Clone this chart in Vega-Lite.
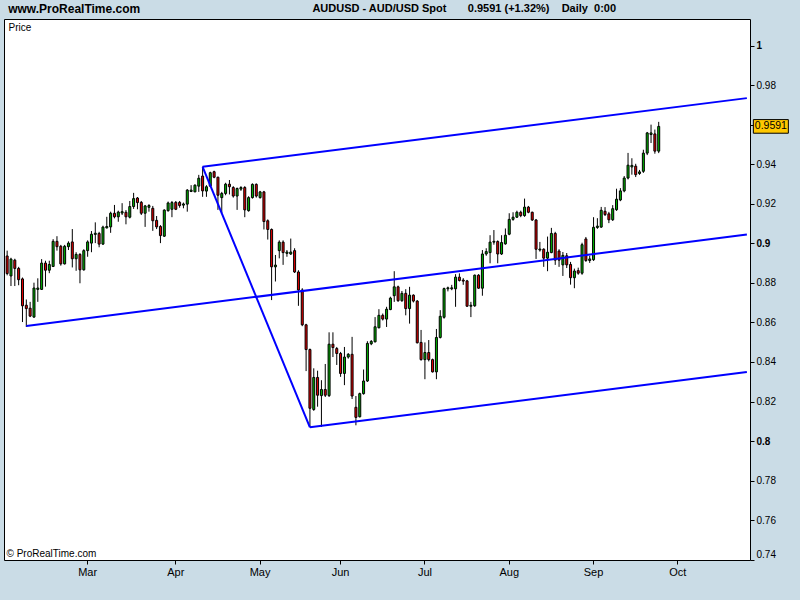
{
"$schema": "https://vega.github.io/schema/vega-lite/v6.json",
"width": 746, "height": 541,
"autosize": {"type": "none"},
"padding": {"left": 4, "top": 19, "right": 50, "bottom": 40},
"background": "#CADCE6",
"config": {"view": {"fill": "white", "stroke": "black", "strokeWidth": 1}, "font": "Liberation Sans"},
"datasets": {
"candles": [
{"d":"2010-01-29","o":0.8936,"h":0.8963,"l":0.8838,"c":0.8847},
{"d":"2010-02-01","o":0.8835,"h":0.8927,"l":0.8784,"c":0.8920},
{"d":"2010-02-02","o":0.8915,"h":0.8922,"l":0.8784,"c":0.8873},
{"d":"2010-02-03","o":0.8873,"h":0.8881,"l":0.8788,"c":0.8816},
{"d":"2010-02-04","o":0.8820,"h":0.8827,"l":0.8602,"c":0.8684},
{"d":"2010-02-05","o":0.8687,"h":0.8716,"l":0.8577,"c":0.8670},
{"d":"2010-02-08","o":0.8672,"h":0.8704,"l":0.8627,"c":0.8632},
{"d":"2010-02-09","o":0.8627,"h":0.8801,"l":0.8624,"c":0.8774},
{"d":"2010-02-10","o":0.8767,"h":0.8823,"l":0.8704,"c":0.8774},
{"d":"2010-02-11","o":0.8767,"h":0.8920,"l":0.8764,"c":0.8900},
{"d":"2010-02-12","o":0.8900,"h":0.8912,"l":0.8781,"c":0.8864},
{"d":"2010-02-15","o":0.8864,"h":0.8912,"l":0.8849,"c":0.8893},
{"d":"2010-02-16","o":0.8883,"h":0.9021,"l":0.8880,"c":0.9010},
{"d":"2010-02-17","o":0.9010,"h":0.9036,"l":0.8963,"c":0.8983},
{"d":"2010-02-18","o":0.8985,"h":0.8992,"l":0.8887,"c":0.8896},
{"d":"2010-02-19","o":0.8896,"h":0.8992,"l":0.8893,"c":0.8985},
{"d":"2010-02-22","o":0.8983,"h":0.9010,"l":0.8966,"c":0.9001},
{"d":"2010-02-23","o":0.9007,"h":0.9072,"l":0.8878,"c":0.8922},
{"d":"2010-02-24","o":0.8922,"h":0.8955,"l":0.8861,"c":0.8944},
{"d":"2010-02-25","o":0.8944,"h":0.8950,"l":0.8798,"c":0.8866},
{"d":"2010-02-26","o":0.8866,"h":0.8970,"l":0.8862,"c":0.8963},
{"d":"2010-03-01","o":0.8963,"h":0.9015,"l":0.8932,"c":0.9007},
{"d":"2010-03-02","o":0.9001,"h":0.9062,"l":0.8955,"c":0.9046},
{"d":"2010-03-03","o":0.9045,"h":0.9106,"l":0.9001,"c":0.9051},
{"d":"2010-03-04","o":0.9050,"h":0.9058,"l":0.8980,"c":0.8996},
{"d":"2010-03-05","o":0.8996,"h":0.9089,"l":0.8992,"c":0.9082},
{"d":"2010-03-08","o":0.9078,"h":0.9134,"l":0.9075,"c":0.9085},
{"d":"2010-03-09","o":0.9083,"h":0.9160,"l":0.9053,"c":0.9152},
{"d":"2010-03-10","o":0.9152,"h":0.9194,"l":0.9126,"c":0.9134},
{"d":"2010-03-11","o":0.9134,"h":0.9165,"l":0.9109,"c":0.9158},
{"d":"2010-03-12","o":0.9153,"h":0.9203,"l":0.9143,"c":0.9160},
{"d":"2010-03-15","o":0.9157,"h":0.9168,"l":0.9096,"c":0.9134},
{"d":"2010-03-16","o":0.9132,"h":0.9214,"l":0.9126,"c":0.9186},
{"d":"2010-03-17","o":0.9186,"h":0.9255,"l":0.9174,"c":0.9226},
{"d":"2010-03-18","o":0.9229,"h":0.9234,"l":0.9172,"c":0.9206},
{"d":"2010-03-19","o":0.9207,"h":0.9214,"l":0.9143,"c":0.9152},
{"d":"2010-03-22","o":0.9152,"h":0.9194,"l":0.9083,"c":0.9189},
{"d":"2010-03-23","o":0.9182,"h":0.9198,"l":0.9160,"c":0.9191},
{"d":"2010-03-24","o":0.9177,"h":0.9189,"l":0.9063,"c":0.9114},
{"d":"2010-03-25","o":0.9116,"h":0.9138,"l":0.9072,"c":0.9083},
{"d":"2010-03-26","o":0.9085,"h":0.9092,"l":0.9001,"c":0.9039},
{"d":"2010-03-29","o":0.9036,"h":0.9172,"l":0.9032,"c":0.9168},
{"d":"2010-03-30","o":0.9165,"h":0.9211,"l":0.9160,"c":0.9204},
{"d":"2010-03-31","o":0.9172,"h":0.9214,"l":0.9132,"c":0.9206},
{"d":"2010-04-01","o":0.9207,"h":0.9214,"l":0.9168,"c":0.9172},
{"d":"2010-04-02","o":0.9207,"h":0.9214,"l":0.9180,"c":0.9191},
{"d":"2010-04-05","o":0.9193,"h":0.9206,"l":0.9177,"c":0.9199},
{"d":"2010-04-06","o":0.9198,"h":0.9274,"l":0.9160,"c":0.9269},
{"d":"2010-04-07","o":0.9262,"h":0.9294,"l":0.9259,"c":0.9269},
{"d":"2010-04-08","o":0.9260,"h":0.9298,"l":0.9259,"c":0.9294},
{"d":"2010-04-09","o":0.9289,"h":0.9346,"l":0.9260,"c":0.9329},
{"d":"2010-04-12","o":0.9340,"h":0.9388,"l":0.9235,"c":0.9265},
{"d":"2010-04-13","o":0.9264,"h":0.9294,"l":0.9235,"c":0.9286},
{"d":"2010-04-14","o":0.9289,"h":0.9362,"l":0.9286,"c":0.9357},
{"d":"2010-04-15","o":0.9362,"h":0.9367,"l":0.9329,"c":0.9334},
{"d":"2010-04-16","o":0.9334,"h":0.9337,"l":0.9169,"c":0.9243},
{"d":"2010-04-19","o":0.9231,"h":0.9260,"l":0.9152,"c":0.9252},
{"d":"2010-04-20","o":0.9252,"h":0.9306,"l":0.9243,"c":0.9299},
{"d":"2010-04-21","o":0.9299,"h":0.9320,"l":0.9247,"c":0.9286},
{"d":"2010-04-22","o":0.9282,"h":0.9289,"l":0.9231,"c":0.9239},
{"d":"2010-04-23","o":0.9239,"h":0.9282,"l":0.9169,"c":0.9277},
{"d":"2010-04-26","o":0.9274,"h":0.9289,"l":0.9265,"c":0.9282},
{"d":"2010-04-27","o":0.9282,"h":0.9289,"l":0.9132,"c":0.9169},
{"d":"2010-04-28","o":0.9165,"h":0.9238,"l":0.9160,"c":0.9231},
{"d":"2010-04-29","o":0.9231,"h":0.9303,"l":0.9226,"c":0.9298},
{"d":"2010-04-30","o":0.9298,"h":0.9303,"l":0.9231,"c":0.9239},
{"d":"2010-05-03","o":0.9231,"h":0.9265,"l":0.9226,"c":0.9260},
{"d":"2010-05-04","o":0.9260,"h":0.9265,"l":0.9070,"c":0.9110},
{"d":"2010-05-05","o":0.9114,"h":0.9121,"l":0.9019,"c":0.9070},
{"d":"2010-05-06","o":0.9070,"h":0.9075,"l":0.8713,"c":0.8881},
{"d":"2010-05-07","o":0.8881,"h":0.8941,"l":0.8807,"c":0.8890},
{"d":"2010-05-10","o":0.8963,"h":0.9015,"l":0.8924,"c":0.9006},
{"d":"2010-05-11","o":0.9006,"h":0.9015,"l":0.8891,"c":0.8953},
{"d":"2010-05-12","o":0.8949,"h":0.8966,"l":0.8932,"c":0.8956},
{"d":"2010-05-13","o":0.8946,"h":0.9024,"l":0.8941,"c":0.8956},
{"d":"2010-05-14","o":0.8963,"h":0.8975,"l":0.8850,"c":0.8855},
{"d":"2010-05-17","o":0.8855,"h":0.8864,"l":0.8684,"c":0.8764},
{"d":"2010-05-18","o":0.8764,"h":0.8773,"l":0.8581,"c":0.8588},
{"d":"2010-05-19","o":0.8588,"h":0.8593,"l":0.8354,"c":0.8463},
{"d":"2010-05-20","o":0.8463,"h":0.8468,"l":0.8072,"c":0.8166},
{"d":"2010-05-21","o":0.8160,"h":0.8368,"l":0.8153,"c":0.8322},
{"d":"2010-05-24","o":0.8322,"h":0.8356,"l":0.8174,"c":0.8232},
{"d":"2010-05-25","o":0.8230,"h":0.8308,"l":0.8072,"c":0.8261},
{"d":"2010-05-26","o":0.8261,"h":0.8390,"l":0.8223,"c":0.8232},
{"d":"2010-05-27","o":0.8230,"h":0.8550,"l":0.8223,"c":0.8490},
{"d":"2010-05-28","o":0.8490,"h":0.8550,"l":0.8425,"c":0.8473},
{"d":"2010-05-31","o":0.8468,"h":0.8476,"l":0.8385,"c":0.8443},
{"d":"2010-06-01","o":0.8443,"h":0.8451,"l":0.8325,"c":0.8342},
{"d":"2010-06-02","o":0.8342,"h":0.8476,"l":0.8283,"c":0.8425},
{"d":"2010-06-03","o":0.8425,"h":0.8445,"l":0.8417,"c":0.8439},
{"d":"2010-06-04","o":0.8439,"h":0.8527,"l":0.8213,"c":0.8228},
{"d":"2010-06-07","o":0.8171,"h":0.8228,"l":0.8080,"c":0.8120},
{"d":"2010-06-08","o":0.8123,"h":0.8245,"l":0.8120,"c":0.8240},
{"d":"2010-06-09","o":0.8240,"h":0.8362,"l":0.8235,"c":0.8304},
{"d":"2010-06-10","o":0.8304,"h":0.8505,"l":0.8299,"c":0.8494},
{"d":"2010-06-11","o":0.8492,"h":0.8511,"l":0.8485,"c":0.8504},
{"d":"2010-06-14","o":0.8502,"h":0.8627,"l":0.8499,"c":0.8578},
{"d":"2010-06-15","o":0.8573,"h":0.8667,"l":0.8570,"c":0.8636},
{"d":"2010-06-16","o":0.8636,"h":0.8645,"l":0.8610,"c":0.8617},
{"d":"2010-06-17","o":0.8617,"h":0.8679,"l":0.8577,"c":0.8667},
{"d":"2010-06-18","o":0.8665,"h":0.8730,"l":0.8662,"c":0.8723},
{"d":"2010-06-21","o":0.8735,"h":0.8859,"l":0.8704,"c":0.8780},
{"d":"2010-06-22","o":0.8780,"h":0.8786,"l":0.8704,"c":0.8710},
{"d":"2010-06-23","o":0.8710,"h":0.8759,"l":0.8704,"c":0.8747},
{"d":"2010-06-24","o":0.8747,"h":0.8768,"l":0.8636,"c":0.8670},
{"d":"2010-06-25","o":0.8670,"h":0.8780,"l":0.8594,"c":0.8738},
{"d":"2010-06-28","o":0.8738,"h":0.8742,"l":0.8701,"c":0.8708},
{"d":"2010-06-29","o":0.8708,"h":0.8713,"l":0.8494,"c":0.8497},
{"d":"2010-06-30","o":0.8499,"h":0.8562,"l":0.8407,"c":0.8412},
{"d":"2010-07-01","o":0.8412,"h":0.8499,"l":0.8313,"c":0.8448},
{"d":"2010-07-02","o":0.8448,"h":0.8511,"l":0.8403,"c":0.8412},
{"d":"2010-07-05","o":0.8412,"h":0.8417,"l":0.8347,"c":0.8350},
{"d":"2010-07-06","o":0.8350,"h":0.8567,"l":0.8313,"c":0.8524},
{"d":"2010-07-07","o":0.8524,"h":0.8662,"l":0.8519,"c":0.8631},
{"d":"2010-07-08","o":0.8626,"h":0.8776,"l":0.8619,"c":0.8771},
{"d":"2010-07-09","o":0.8770,"h":0.8781,"l":0.8757,"c":0.8775},
{"d":"2010-07-12","o":0.8770,"h":0.8790,"l":0.8763,"c":0.8775},
{"d":"2010-07-13","o":0.8770,"h":0.8844,"l":0.8679,"c":0.8829},
{"d":"2010-07-14","o":0.8829,"h":0.8848,"l":0.8807,"c":0.8812},
{"d":"2010-07-15","o":0.8814,"h":0.8824,"l":0.8790,"c":0.8809},
{"d":"2010-07-16","o":0.8810,"h":0.8815,"l":0.8679,"c":0.8682},
{"d":"2010-07-19","o":0.8682,"h":0.8704,"l":0.8627,"c":0.8687},
{"d":"2010-07-20","o":0.8684,"h":0.8842,"l":0.8679,"c":0.8839},
{"d":"2010-07-21","o":0.8839,"h":0.8844,"l":0.8770,"c":0.8773},
{"d":"2010-07-22","o":0.8773,"h":0.8966,"l":0.8735,"c":0.8946},
{"d":"2010-07-23","o":0.8946,"h":0.8975,"l":0.8937,"c":0.8958},
{"d":"2010-07-26","o":0.8953,"h":0.9041,"l":0.8899,"c":0.9006},
{"d":"2010-07-27","o":0.9006,"h":0.9067,"l":0.8993,"c":0.9010},
{"d":"2010-07-28","o":0.9009,"h":0.9015,"l":0.8899,"c":0.8946},
{"d":"2010-07-29","o":0.8946,"h":0.9041,"l":0.8941,"c":0.9004},
{"d":"2010-07-30","o":0.8997,"h":0.9075,"l":0.8993,"c":0.9041},
{"d":"2010-08-02","o":0.9046,"h":0.9152,"l":0.9041,"c":0.9121},
{"d":"2010-08-03","o":0.9121,"h":0.9157,"l":0.9114,"c":0.9132},
{"d":"2010-08-04","o":0.9132,"h":0.9165,"l":0.9128,"c":0.9157},
{"d":"2010-08-05","o":0.9157,"h":0.9165,"l":0.9132,"c":0.9140},
{"d":"2010-08-06","o":0.9140,"h":0.9226,"l":0.9134,"c":0.9183},
{"d":"2010-08-09","o":0.9183,"h":0.9189,"l":0.9152,"c":0.9157},
{"d":"2010-08-10","o":0.9157,"h":0.9160,"l":0.9113,"c":0.9118},
{"d":"2010-08-11","o":0.9118,"h":0.9123,"l":0.8921,"c":0.8970},
{"d":"2010-08-12","o":0.8966,"h":0.9007,"l":0.8958,"c":0.8971},
{"d":"2010-08-13","o":0.8970,"h":0.8975,"l":0.8881,"c":0.8925},
{"d":"2010-08-16","o":0.8925,"h":0.9034,"l":0.8859,"c":0.8955},
{"d":"2010-08-17","o":0.8953,"h":0.9078,"l":0.8950,"c":0.9050},
{"d":"2010-08-18","o":0.9050,"h":0.9058,"l":0.8891,"c":0.8915},
{"d":"2010-08-19","o":0.8961,"h":0.8970,"l":0.8881,"c":0.8915},
{"d":"2010-08-20","o":0.8891,"h":0.8956,"l":0.8835,"c":0.8939},
{"d":"2010-08-23","o":0.8937,"h":0.8951,"l":0.8875,"c":0.8891},
{"d":"2010-08-24","o":0.8893,"h":0.8906,"l":0.8791,"c":0.8826},
{"d":"2010-08-25","o":0.8826,"h":0.8872,"l":0.8773,"c":0.8860},
{"d":"2010-08-26","o":0.8862,"h":0.8877,"l":0.8841,"c":0.8849},
{"d":"2010-08-27","o":0.8849,"h":0.9003,"l":0.8841,"c":0.8993},
{"d":"2010-08-30","o":0.9022,"h":0.9032,"l":0.8906,"c":0.8913},
{"d":"2010-08-31","o":0.8913,"h":0.8937,"l":0.8901,"c":0.8921},
{"d":"2010-09-01","o":0.8917,"h":0.9132,"l":0.8911,"c":0.9081},
{"d":"2010-09-02","o":0.9080,"h":0.9127,"l":0.9073,"c":0.9087},
{"d":"2010-09-03","o":0.9082,"h":0.9184,"l":0.9078,"c":0.9167},
{"d":"2010-09-06","o":0.9162,"h":0.9183,"l":0.9138,"c":0.9145},
{"d":"2010-09-07","o":0.9149,"h":0.9159,"l":0.9102,"c":0.9119},
{"d":"2010-09-08","o":0.9119,"h":0.9193,"l":0.9113,"c":0.9175},
{"d":"2010-09-09","o":0.9170,"h":0.9276,"l":0.9164,"c":0.9223},
{"d":"2010-09-10","o":0.9219,"h":0.9279,"l":0.9213,"c":0.9265},
{"d":"2010-09-13","o":0.9265,"h":0.9340,"l":0.9258,"c":0.9330},
{"d":"2010-09-14","o":0.9330,"h":0.9457,"l":0.9323,"c":0.9395},
{"d":"2010-09-15","o":0.9386,"h":0.9430,"l":0.9347,"c":0.9394},
{"d":"2010-09-16","o":0.9390,"h":0.9402,"l":0.9335,"c":0.9347},
{"d":"2010-09-17","o":0.9353,"h":0.9371,"l":0.9346,"c":0.9361},
{"d":"2010-09-20","o":0.9364,"h":0.9473,"l":0.9356,"c":0.9456},
{"d":"2010-09-21","o":0.9456,"h":0.9563,"l":0.9446,"c":0.9558},
{"d":"2010-09-22","o":0.9550,"h":0.9600,"l":0.9507,"c":0.9558},
{"d":"2010-09-23","o":0.9553,"h":0.9575,"l":0.9453,"c":0.9466},
{"d":"2010-09-24","o":0.9466,"h":0.9614,"l":0.9456,"c":0.9591}
],
"channel": [
{"seg":"upper","d":"2010-04-12","v":0.9387},
{"seg":"upper","d":"2010-10-27","v":0.9734},
{"seg":"diagonal","d":"2010-04-12","v":0.9387},
{"seg":"diagonal","d":"2010-05-20","v":0.8070},
{"seg":"lower","d":"2010-05-20","v":0.8070},
{"seg":"lower","d":"2010-10-27","v":0.8349},
{"seg":"middle","d":"2010-02-05","v":0.8582},
{"seg":"middle","d":"2010-10-27","v":0.9044}
],
"last": [{"p": 0.9591, "lbl": "0.9591"}]
},
"layer": [
{
"data": {"name": "candles"},
"mark": {"type": "rule", "color": "black", "strokeWidth": 1},
"encoding": {
"x": {"field": "d", "type": "ordinal",
"scale": {"type": "band", "paddingInner": 0, "paddingOuter": 0.32, "domain": [
"2010-01-29",
"2010-02-01","2010-02-02","2010-02-03","2010-02-04","2010-02-05","2010-02-08","2010-02-09","2010-02-10","2010-02-11","2010-02-12","2010-02-15","2010-02-16","2010-02-17","2010-02-18","2010-02-19","2010-02-22","2010-02-23","2010-02-24","2010-02-25","2010-02-26",
"2010-03-01","2010-03-02","2010-03-03","2010-03-04","2010-03-05","2010-03-08","2010-03-09","2010-03-10","2010-03-11","2010-03-12","2010-03-15","2010-03-16","2010-03-17","2010-03-18","2010-03-19","2010-03-22","2010-03-23","2010-03-24","2010-03-25","2010-03-26","2010-03-29","2010-03-30","2010-03-31",
"2010-04-01","2010-04-02","2010-04-05","2010-04-06","2010-04-07","2010-04-08","2010-04-09","2010-04-12","2010-04-13","2010-04-14","2010-04-15","2010-04-16","2010-04-19","2010-04-20","2010-04-21","2010-04-22","2010-04-23","2010-04-26","2010-04-27","2010-04-28","2010-04-29","2010-04-30",
"2010-05-03","2010-05-04","2010-05-05","2010-05-06","2010-05-07","2010-05-10","2010-05-11","2010-05-12","2010-05-13","2010-05-14","2010-05-17","2010-05-18","2010-05-19","2010-05-20","2010-05-21","2010-05-24","2010-05-25","2010-05-26","2010-05-27","2010-05-28","2010-05-31",
"2010-06-01","2010-06-02","2010-06-03","2010-06-04","2010-06-07","2010-06-08","2010-06-09","2010-06-10","2010-06-11","2010-06-14","2010-06-15","2010-06-16","2010-06-17","2010-06-18","2010-06-21","2010-06-22","2010-06-23","2010-06-24","2010-06-25","2010-06-28","2010-06-29","2010-06-30",
"2010-07-01","2010-07-02","2010-07-05","2010-07-06","2010-07-07","2010-07-08","2010-07-09","2010-07-12","2010-07-13","2010-07-14","2010-07-15","2010-07-16","2010-07-19","2010-07-20","2010-07-21","2010-07-22","2010-07-23","2010-07-26","2010-07-27","2010-07-28","2010-07-29","2010-07-30",
"2010-08-02","2010-08-03","2010-08-04","2010-08-05","2010-08-06","2010-08-09","2010-08-10","2010-08-11","2010-08-12","2010-08-13","2010-08-16","2010-08-17","2010-08-18","2010-08-19","2010-08-20","2010-08-23","2010-08-24","2010-08-25","2010-08-26","2010-08-27","2010-08-30","2010-08-31",
"2010-09-01","2010-09-02","2010-09-03","2010-09-06","2010-09-07","2010-09-08","2010-09-09","2010-09-10","2010-09-13","2010-09-14","2010-09-15","2010-09-16","2010-09-17","2010-09-20","2010-09-21","2010-09-22","2010-09-23","2010-09-24","2010-09-27","2010-09-28","2010-09-29","2010-09-30",
"2010-10-01","2010-10-04","2010-10-05","2010-10-06","2010-10-07","2010-10-08","2010-10-11","2010-10-12","2010-10-13","2010-10-14","2010-10-15","2010-10-18","2010-10-19","2010-10-20","2010-10-21","2010-10-22","2010-10-25","2010-10-26","2010-10-27"
]},
"axis": {"values": ["2010-03-01","2010-04-01","2010-05-03","2010-06-01","2010-07-01","2010-08-02","2010-09-01","2010-10-01"],
"labelExpr": "utcFormat(toDate(datum.value), '%b')",
"domain": false, "grid": false, "ticks": true, "tickColor": "black", "tickSize": 4,
"labelAngle": 0, "labelFont": "Liberation Sans", "labelFontSize": 11, "labelColor": "black", "labelPadding": 2,
"labelOverlap": false, "labelFlush": false,
"title": "© ProRealTime.com", "titleX": 2, "titleY": -7, "titleAlign": "left", "titleBaseline": "middle",
"titleFont": "Liberation Sans", "titleFontSize": 10, "titleFontWeight": "normal", "titleColor": "black"}},
"y": {"field": "l", "type": "quantitative",
"scale": {"domain": [0.7399, 1.0134], "nice": false, "zero": false},
"axis": {"orient": "right",
"values": [0.74,0.75,0.76,0.77,0.78,0.79,0.8,0.81,0.82,0.83,0.84,0.85,0.86,0.87,0.88,0.89,0.9,0.91,0.92,0.93,0.94,0.95,0.96,0.97,0.98,0.99,1],
"labelExpr": "(round(datum.value*100) % 2 == 0 && round(datum.value*100) != 96) ? format(datum.value, '~g') : ''",
"domain": false, "grid": false, "tickColor": "black", "tickSize": 4,
"labelFont": "Liberation Sans", "labelFontSize": 10, "labelColor": "black", "labelPadding": 2,
"labelFontWeight": {"condition": {"test": "round(datum.value*100) % 10 == 0", "value": "bold"}, "value": "normal"},
"labelOffset": {"condition": {"test": "datum.value < 0.745", "value": -5}, "value": 0},
"labelOverlap": false, "labelBound": false,
"title": "Price", "titleAngle": 0, "titleX": -742, "titleY": 3, "titleAlign": "left", "titleBaseline": "top",
"titleFont": "Liberation Sans", "titleFontSize": 10, "titleFontWeight": "normal", "titleColor": "black"}},
"y2": {"field": "h"}
}
},
{
"data": {"name": "candles"},
"mark": {"type": "bar", "width": 2, "stroke": "black", "strokeWidth": 1},
"encoding": {
"x": {"field": "d", "type": "ordinal"},
"y": {"field": "o", "type": "quantitative"},
"y2": {"field": "c"},
"fill": {"condition": {"test": "datum.c >= datum.o", "value": "#00B400"}, "value": "#E60000"}
}
},
{
"data": {"name": "channel"},
"mark": {"type": "line", "color": "#0000FF", "strokeWidth": 2},
"encoding": {
"x": {"field": "d", "type": "ordinal"},
"y": {"field": "v", "type": "quantitative"},
"detail": {"field": "seg"}
}
},
{
"data": {"name": "last"},
"mark": {"type": "point", "shape": "M-1,-0.39L1,-0.39L1,0.39L-1,0.39Z", "size": 1225, "filled": true, "fill": "#FFC800", "stroke": "black", "strokeWidth": 1, "opacity": 1, "xOffset": 24},
"encoding": {
"x": {"datum": "2010-10-27", "type": "ordinal"},
"y": {"field": "p", "type": "quantitative"}
}
},
{
"data": {"name": "last"},
"mark": {"type": "text", "xOffset": 24, "align": "center", "baseline": "middle", "font": "Liberation Sans", "fontSize": 10.5, "color": "black"},
"encoding": {
"x": {"datum": "2010-10-27", "type": "ordinal"},
"y": {"field": "p", "type": "quantitative"},
"text": {"field": "lbl"}
}
},
{
"data": {"values": [{"t": "www.ProRealTime.com"}]},
"mark": {"type": "text", "align": "left", "baseline": "middle", "dx": 1, "dy": -10, "font": "Liberation Sans", "fontSize": 12, "fontWeight": "bold", "color": "black"},
"encoding": {
"x": {"datum": "2010-01-29", "type": "ordinal"},
"y": {"datum": 1.0134, "type": "quantitative"},
"text": {"field": "t"}
}
},
{
"data": {"values": [{"t": "AUDUSD - AUD/USD Spot\u00a0\u00a0\u00a0\u00a0\u00a0\u00a0\u00a00.9591 (+1.32%)\u00a0\u00a0\u00a0\u00a0Daily\u00a0\u00a00:00"}]},
"mark": {"type": "text", "align": "center", "baseline": "middle", "dx": 1, "dy": -10, "font": "Liberation Sans", "fontSize": 11, "fontWeight": "bold", "color": "black"},
"encoding": {
"x": {"datum": "2010-07-15", "type": "ordinal"},
"y": {"datum": 1.0134, "type": "quantitative"},
"text": {"field": "t"}
}
}
]
}
